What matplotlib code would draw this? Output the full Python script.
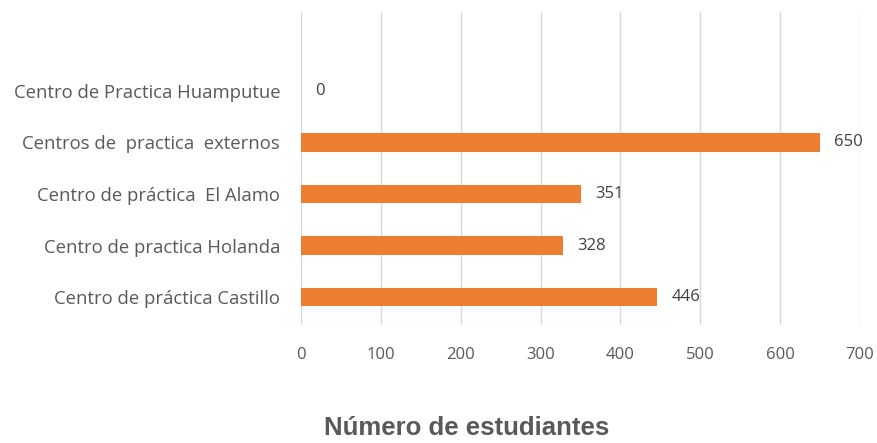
import matplotlib.pyplot as plt
import numpy as np

# Datos
centros = ['Centro de práctica Castillo', 'Centro de practica Holanda',
           'Centro de práctica  El Alamo', 'Centros de  practica  externos',
           'Centro de Practica Huamputue']
estudiantes = [446, 328, 351, 650, 0]
ticks_x = [0, 100, 200, 300, 400, 500, 600, 700]

plt.rcParams['font.family'] = ['Open Sans', 'DejaVu Sans']

W, H = 877, 443
fig = plt.figure(figsize=(W / 100, H / 100), dpi=100)
ax = fig.add_axes([301 / W, 1 - 325 / H, (860 - 301) / W, (325 - 12) / H])

y = np.arange(len(centros))
ax.barh(y, estudiantes, height=0.36, color='#ED7D31', zorder=3)
for yi, v in zip(y, estudiantes):
    ax.text(v + 18, yi, str(v), va='center', ha='left', fontsize=12, color='#404040')

ax.set_xlim(0, 700)
ax.set_ylim(-0.54, 5.53)
ax.set_xticks(ticks_x)
ax.set_yticks(y)
ax.set_yticklabels(centros)
ax.tick_params(axis='both', length=0, labelsize=12, labelcolor='#595959')
ax.tick_params(axis='y', labelsize=13.3)
ax.tick_params(axis='x', pad=16)
ax.tick_params(axis='y', pad=15)
ax.grid(axis='x', color='#D9D9D9', linewidth=1, zorder=0)
for s in ax.spines.values():
    s.set_visible(False)

fig.text(467 / W, 1 - 428 / H, 'Número de estudiantes', ha='center', va='center',
         fontsize=18.5, fontweight='bold', color='#595959', family='Liberation Sans')

fig.savefig('out.png', dpi=100)
